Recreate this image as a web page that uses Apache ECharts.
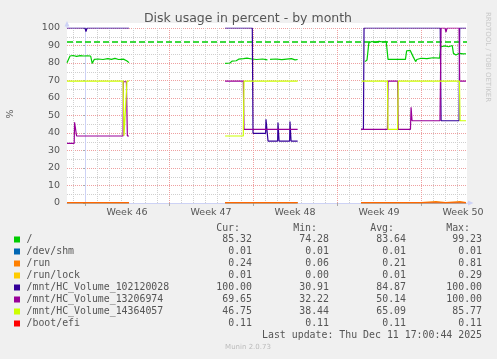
<!DOCTYPE html>
<html><head><meta charset="utf-8">
<script src="https://cdn.jsdelivr.net/npm/echarts@6/dist/echarts.min.js"></script>
<style>html,body{margin:0;padding:0;background:#f0f0f0}#c{width:497px;height:359px}</style>
</head><body><div id="c"></div>
<script>
// x values are days counted from Monday 10 Nov 2025 00:00 (start of week 46)
const xMin = -1.5, xMax = 31.83;
const weekLabels = ['Week 46', 'Week 47', 'Week 48', 'Week 49', 'Week 50'];
const weekMid = [3.5, 10.5, 17.5, 24.5, 31.5];
const weekStart = [0, 7, 14, 21, 28];
const yTicks = [0, 10, 20, 30, 40, 50, 60, 70, 80, 90, 100];
const warnLevel = 92;

const seriesNames = ['/', '/dev/shm', '/run', '/run/lock', '/mnt/HC_Volume_102120028', '/mnt/HC_Volume_13206974', '/mnt/HC_Volume_14364057', '/boot/efi'];
const seriesColors = ['#00cc00', '#0066b3', '#ff8000', '#ffcc00', '#330099', '#990099', '#ccff00', '#ff0000'];
const curVals = ['85.32', '0.01', '0.24', '0.01', '100.00', '69.65', '46.75', '0.11'];
const minVals = ['74.28', '0.01', '0.06', '0.00', '30.91', '32.22', '38.44', '0.11'];
const avgVals = ['83.64', '0.01', '0.21', '0.01', '84.87', '50.14', '65.09', '0.11'];
const maxVals = ['99.23', '0.01', '0.81', '0.29', '100.00', '100.00', '85.77', '0.11'];

const rootData = [
  [-1.5, 80.2], [-1.25, 84], [-1.0, 84.3], [-0.7, 83.8], [-0.4, 84.2], [-0.1, 84], [0.2, 84.1], [0.47, 84],
  [0.6, 79.8], [0.78, 82.1], [1.1, 82.3], [1.5, 82], [1.9, 82.5], [2.2, 82.1], [2.5, 82.6], [2.8, 82],
  [3.2, 82.2], [3.47, 81.3], [3.67, 80.2], [3.8, null],
  [11.67, 79.8], [12.08, 80], [12.25, 81.1], [12.6, 81.3], [12.8, 82.2], [13.2, 82.5], [13.5, 82.8],
  [13.9, 82.3], [14.3, 82], [14.8, 82.3], [15.2, 81.8], [15.3, null], [15.42, 82.1], [15.9, 82.3],
  [16.4, 81.9], [16.8, 82.2], [17.2, 82.5], [17.5, 81.8], [17.72, 82], [17.8, null],
  [23.33, 80.8], [23.5, 81.7], [23.58, 82.5], [23.65, 91.5], [23.9, 92.3], [24.2, 91.8], [24.5, 92.4],
  [24.8, 92], [25.1, 92.3], [25.2, 92.1], [25.25, 82.1], [25.8, 82.1], [26.3, 82.1], [26.7, 82.1],
  [26.8, 87], [27.1, 87.2], [27.2, 86.8], [27.35, 83.5], [27.55, 80.8], [27.65, 82], [27.78, 81],
  [28.0, 82.7], [28.5, 82.5], [29.0, 83], [29.55, 82.8], [29.65, 89.3], [30.0, 89.8], [30.3, 89.3],
  [30.6, 90], [30.7, 85.5], [30.9, 84.6], [31.2, 85.5], [31.5, 85.2], [31.75, 85.3]
];
const shmData = [[-1.5, 0.01], [3.67, 0.01], [3.8, null], [11.67, 0.01], [17.72, 0.01], [17.8, null], [23.0, 0.01], [31.75, 0.01]];
const runData = [
  [-1.5, 0.2], [3.67, 0.2], [3.8, null], [11.67, 0.2], [17.72, 0.2], [17.8, null],
  [23.0, 0.2], [25.05, 0.2], [25.08, 0.8], [25.12, 0.2], [27.05, 0.2], [27.08, 0.7], [27.12, 0.2],
  [28.0, 0.2], [28.06, 0.8], [29.25, 0.8], [29.3, 0.2], [30.05, 0.2], [30.08, 0.8], [31.25, 0.8],
  [31.3, 0.24], [31.75, 0.24]
];
const runLockData = [[-1.5, 0.01], [3.67, 0.01], [3.8, null], [11.67, 0.01], [17.72, 0.01], [17.8, null], [23.0, 0.01], [31.75, 0.01]];
const vol102Data = [
  [-1.5, 100], [0.0, 100], [0.08, 98], [0.17, 100], [3.67, 100], [3.8, null],
  [11.67, 100], [13.94, 100], [14.0, 39.8], [15.05, 39.8], [15.08, 47.8], [15.25, 35.4], [16.05, 35.4],
  [16.08, 46], [16.17, 35.4], [17.05, 35.4], [17.08, 46.5], [17.17, 35.4], [17.72, 35.4], [17.8, null],
  [23.0, 42.1], [23.2, 42.1], [23.25, 100], [29.6, 100], [29.67, 47], [31.17, 47], [31.22, 100], [31.75, 100]
];
const vol132Data = [
  [-1.5, 34.1], [-0.9, 34.1], [-0.87, 46.1], [-0.7, 38.3], [3.17, 38.3], [3.2, 69.3], [3.45, 69.3],
  [3.53, 38.3], [3.67, 38.3], [3.8, null],
  [11.67, 69.7], [13.19, 69.7], [13.25, 42.1], [17.72, 42.1], [17.8, null],
  [23.0, 42.1], [25.2, 42.1], [25.25, 69.7], [26.05, 69.7], [26.1, 42.1], [27.12, 42.1], [27.17, 54.7],
  [27.25, 47], [29.58, 47], [29.67, 100], [30.0, 100], [30.08, 97.6], [30.17, 100], [31.17, 100],
  [31.22, 69.7], [31.75, 69.7]
];
const vol143Data = [
  [-1.5, 69.7], [3.17, 69.7], [3.25, 38.4], [3.4, 38.4], [3.5, 69.7], [3.67, 69.7], [3.8, null],
  [11.67, 38.3], [13.19, 38.3], [13.25, 69.7], [17.72, 69.7], [17.8, null],
  [23.05, 69.7], [25.2, 69.7], [25.25, 42.1], [26.05, 42.1], [26.1, 69.7], [31.2, 69.7], [31.25, 47], [31.75, 47]
];
const bootEfiData = [[-1.5, 0.11], [3.67, 0.11], [3.8, null], [11.67, 0.11], [17.72, 0.11], [17.8, null], [23.0, 0.11], [31.75, 0.11]];

const allData = [rootData, shmData, runData, runLockData, vol102Data, vol132Data, vol143Data, bootEfiData];

// grid line positions (days), minor = every day, major = week starts
const dayGrid = [];
for (let d = Math.ceil(xMin); d <= xMax; d++) if (weekStart.indexOf(d) < 0) dayGrid.push(d);

const FONT = 'DejaVu Sans';
const MONO = 'DejaVu Sans Mono';
const TXT = '#555';
const AXIS = '#cdd2f5';

const series = allData.map((d, i) => {
  const s = {
    name: seriesNames[i], type: 'line', data: d, xAxisIndex: 0, yAxisIndex: 0,
    showSymbol: false, symbol: 'none', connectNulls: false, animation: false,
    lineStyle: { color: seriesColors[i], width: 1.2, opacity: i === 7 ? 0.5 : 1 }, itemStyle: { color: seriesColors[i] },
    emphasis: { disabled: true }, z: 3 + i
  };
  if (i === 0) {
    s.markLine = {
      silent: true, symbol: 'none', animation: false, label: { show: false },
      lineStyle: { color: '#00cc00', type: [6, 3], width: 1.5 },
      data: [{ yAxis: warnLevel }]
    };
  }
  return s;
});

const graphics = [];
// canvas background (white, a bit above the top line)
graphics.push({ type: 'rect', shape: { x: 67, y: 23, width: 400, height: 180 }, style: { fill: '#ffffff' }, z: -10, silent: true });
// axis arrows
graphics.push({ type: 'line', shape: { x1: 67, y1: 28, x2: 67, y2: 25 }, style: { stroke: AXIS, lineWidth: 1 }, z: 20 });
graphics.push({ type: 'polygon', shape: { points: [[64.5, 26.5], [69.5, 26.5], [67, 21]] }, style: { fill: AXIS }, z: 20 });
graphics.push({ type: 'line', shape: { x1: 467, y1: 203, x2: 469, y2: 203 }, style: { stroke: AXIS, lineWidth: 1 }, z: 20 });
graphics.push({ type: 'polygon', shape: { points: [[468, 200.5], [468, 205.5], [473.5, 203]] }, style: { fill: AXIS }, z: 20 });
// title
graphics.push({ type: 'text', x: 248, y: 19, style: { text: 'Disk usage in percent - by month', font: '12.5px "' + FONT + '"', fill: TXT, align: 'center', verticalAlign: 'middle' }, z: 20 });
// y axis name
graphics.push({ type: 'text', x: 11, y: 114, rotation: Math.PI / 2, style: { text: '%', font: '9.5px "' + FONT + '"', fill: TXT, align: 'center', verticalAlign: 'middle' }, z: 20 });
// rrdtool watermark
graphics.push({ type: 'text', x: 488, y: 57, rotation: -Math.PI / 2, style: { text: 'RRDTOOL / TOBI OETIKER', font: '7px "' + FONT + '"', fill: '#c8c8c8', align: 'center', verticalAlign: 'middle' }, z: 20 });

// legend table
const colRight = [252, 329, 406, 482];
const headers = ['Cur:', 'Min:', 'Avg:', 'Max:'];
const mono = '9.9px "' + MONO + '"';
headers.forEach((h, j) => {
  graphics.push({ type: 'text', x: colRight[j] - 12, y: 228, style: { text: h, font: mono, fill: TXT, align: 'right', verticalAlign: 'middle' } });
});
const cols = [curVals, minVals, avgVals, maxVals];
seriesNames.forEach((n, i) => {
  const yc = 239.5 + 12 * i;
  graphics.push({ type: 'rect', shape: { x: 14, y: yc - 3, width: 6, height: 6 }, style: { fill: seriesColors[i] } });
  graphics.push({ type: 'text', x: 26.5, y: yc, style: { text: n, font: mono, fill: TXT, align: 'left', verticalAlign: 'middle' } });
  cols.forEach((c, j) => {
    graphics.push({ type: 'text', x: colRight[j], y: yc, style: { text: c[i], font: mono, fill: TXT, align: 'right', verticalAlign: 'middle' } });
  });
});
graphics.push({ type: 'text', x: 482, y: 335.5, style: { text: 'Last update: Thu Dec 11 17:00:44 2025', font: mono, fill: TXT, align: 'right', verticalAlign: 'middle' } });
graphics.push({ type: 'text', x: 248, y: 347.5, style: { text: 'Munin 2.0.73', font: '7px "' + FONT + '"', fill: '#bbbbbb', align: 'center', verticalAlign: 'middle' } });

const chart = echarts.init(document.getElementById('c'), null, { renderer: 'canvas', width: 497, height: 359 });
chart.setOption({
  backgroundColor: '#f0f0f0',
  animation: false,
  grid: { left: 67, right: 30, top: 28, bottom: 156, containLabel: false, outerBoundsMode: 'none', show: false },
  xAxis: [
    {
      type: 'value', min: xMin, max: xMax, position: 'bottom',
      axisLine: { show: true, lineStyle: { color: AXIS, width: 1 } },
      axisTick: { show: false, customValues: dayGrid },
      axisLabel: {
        customValues: weekMid, fontFamily: FONT, fontSize: 9.5, color: TXT, margin: 5,
        formatter: v => weekLabels[Math.round((v - weekMid[0]) / 7)]
      },
      splitLine: { show: true, lineStyle: { color: '#cfcfcf', type: [1, 1], width: 1 } }
    },
    {
      type: 'value', min: xMin, max: xMax, position: 'bottom',
      axisLine: { show: false },
      axisTick: { show: true, customValues: weekStart, length: 3, lineStyle: { color: '#aaaaaa' } },
      axisLabel: { show: false },
      splitLine: { show: true, lineStyle: { color: '#eea0a0', type: [1, 1], width: 1 } }
    }
  ],
  yAxis: {
    type: 'value', min: 0, max: 100, interval: 10,
    axisLine: { show: true, lineStyle: { color: AXIS, width: 1 } },
    axisTick: { show: true, length: 2, lineStyle: { color: '#aaaaaa' } },
    axisLabel: { fontFamily: FONT, fontSize: 9.5, color: TXT, margin: 7, formatter: v => (yTicks.indexOf(v) >= 0 ? String(v) : '') },
    splitLine: { show: true, lineStyle: { color: '#eea0a0', type: [1, 1], width: 1 } },
    minorTick: { show: false, splitNumber: 2 },
    minorSplitLine: { show: true, lineStyle: { color: '#cfcfcf', type: [1, 1], width: 1 } }
  },
  series: series,
  graphic: graphics
});
</script></body></html>
